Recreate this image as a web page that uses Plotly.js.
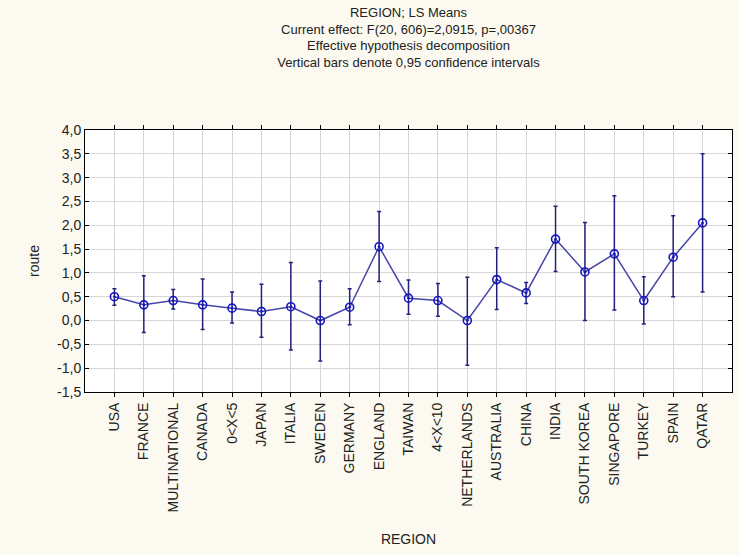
<!DOCTYPE html>
<html>
<head>
<meta charset="utf-8">
<script src="https://cdn.plot.ly/plotly-3.0.1.min.js"></script>
<style>
  html, body { margin: 0; padding: 0; background: #fcfaf0; }
  #chart { width: 739px; height: 555px; }
</style>
</head>
<body>
<div id="chart"></div>
<script>
// Categories (REGION levels)
const regions = ["USA", "FRANCE", "MULTINATIONAL", "CANADA", "0<X<5", "JAPAN", "ITALIA",
  "SWEDEN", "GERMANY", "ENGLAND", "TAIWAN", "4<X<10", "NETHERLANDS", "AUSTRALIA",
  "CHINA", "INDIA", "SOUTH KOREA", "SINGAPORE", "TURKEY", "SPAIN", "QATAR"];

// LS means of "route"
const lsMeans = [0.50, 0.33, 0.42, 0.33, 0.26, 0.19, 0.29,
  0.00, 0.28, 1.55, 0.47, 0.42, 0.00, 0.86,
  0.58, 1.71, 1.02, 1.40, 0.42, 1.33, 2.05];

// 95% confidence interval bounds
const ciLower = [0.32, -0.25, 0.24, -0.19, -0.05, -0.35, -0.62,
  -0.85, -0.09, 0.82, 0.13, 0.09, -0.94, 0.23,
  0.36, 1.03, 0.00, 0.22, -0.07, 0.50, 0.60];
const ciUpper = [0.67, 0.94, 0.65, 0.87, 0.60, 0.76, 1.22,
  0.83, 0.67, 2.29, 0.85, 0.78, 0.91, 1.53,
  0.80, 2.40, 2.06, 2.62, 0.92, 2.20, 3.50];

// Y tick labels (comma decimal, as in the original)
const yTickVals = [-1.5, -1.0, -0.5, 0.0, 0.5, 1.0, 1.5, 2.0, 2.5, 3.0, 3.5, 4.0];
const yTickText = ["-1,5", "-1,0", "-0,5", "0,0", "0,5", "1,0", "1,5", "2,0", "2,5", "3,0", "3,5", "4,0"];

const titleText = "REGION; LS Means<br>Current effect: F(20, 606)=2,0915, p=,00367<br>Effective hypothesis decomposition<br>Vertical bars denote 0,95 confidence intervals";

const xIdx = regions.map((_, i) => i);
const errPlus = lsMeans.map((m, i) => ciUpper[i] - m);
const errMinus = lsMeans.map((m, i) => m - ciLower[i]);

const FONT = "Liberation Sans, Arial, sans-serif";

const trace = {
  type: "scatter",
  mode: "lines+markers",
  x: xIdx,
  y: lsMeans,
  line: { color: "#4646a8", width: 1.5 },
  marker: { symbol: "circle-open-dot", size: 8, color: "#1414c0", line: { width: 1.6, color: "#1414c0" } },
  error_y: {
    type: "data",
    symmetric: false,
    array: errPlus,
    arrayminus: errMinus,
    color: "#22227e",
    thickness: 1.5,
    width: 2
  },
  hoverinfo: "skip"
};

const layout = {
  width: 739,
  height: 555,
  paper_bgcolor: "#fcfaf0",
  plot_bgcolor: "#ffffff",
  margin: { l: 85, r: 7, t: 130, b: 163 },
  showlegend: false,
  font: { family: FONT, size: 13, color: "#222222" },
  title: {
    text: titleText,
    font: { family: FONT, size: 13, color: "#222222" },
    x: 0.5, xref: "paper", xanchor: "center",
    y: 0.97, yref: "container", yanchor: "top"
  },
  xaxis: {
    range: [-1, 21],
    tickmode: "array",
    tickvals: xIdx,
    ticktext: regions,
    tickangle: -90,
    ticks: "outside",
    ticklen: 4,
    tickcolor: "#000",
    tickfont: { family: FONT, size: 14, color: "#222" },
    showline: true,
    linecolor: "#000",
    linewidth: 1,
    mirror: "ticks",
    showgrid: true,
    gridcolor: "#d6d6d6",
    gridwidth: 1,
    zeroline: false,
    title: { text: "REGION", font: { family: FONT, size: 14, color: "#222" }, standoff: 22 }
  },
  yaxis: {
    range: [-1.5, 4.0],
    tickmode: "array",
    tickvals: yTickVals,
    ticktext: yTickText,
    ticks: "inside",
    ticklen: 4,
    tickcolor: "#000",
    tickfont: { family: FONT, size: 14, color: "#222" },
    showline: true,
    linecolor: "#000",
    linewidth: 1,
    mirror: "ticks",
    showgrid: true,
    gridcolor: "#d6d6d6",
    gridwidth: 1,
    zeroline: false,
    title: { text: "route", font: { family: FONT, size: 14, color: "#222" }, standoff: 14 }
  }
};

Plotly.newPlot("chart", [trace], layout, { displayModeBar: false, staticPlot: true });
</script>
</body>
</html>
